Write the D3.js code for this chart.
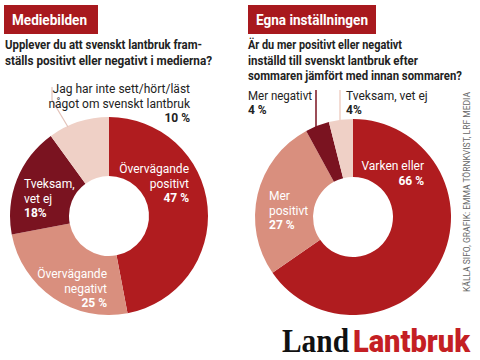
<!DOCTYPE html>
<html><head><meta charset="utf-8">
<script src="https://cdn.jsdelivr.net/npm/d3@7"></script>
<style>
html,body{margin:0;padding:0;background:#fff;}
svg{display:block;font-family:Roboto,"Open Sans",sans-serif;}
</style></head>
<body><svg id="c" width="480" height="360"></svg>
<script>
// Data
const leftCategories = ["Övervägande positivt","Övervägande negativt","Tveksam, vet ej","Jag har inte sett/hört/läst något om svenskt lantbruk"];
const leftValues = [47,25,18,10];
const rightCategories = ["Varken eller","Mer positivt","Mer negativt","Tveksam, vet ej"];
const rightValues = [66,27,4,4];
const sliceColors = ["#b01c1f","#d98f7e","#7a1320","#efd0c6"];

const svg = d3.select("#c");

function drawDonut(cx, cy, values, rOut, rIn){
  const pie = d3.pie().sort(null).value(d=>d);
  const arc = d3.arc().innerRadius(rIn).outerRadius(rOut);
  const g = svg.append("g").attr("transform",`translate(${cx},${cy})`);
  g.selectAll("path").data(pie(values)).join("path")
    .attr("d",arc).attr("fill",(d,i)=>sliceColors[i]);
  return g;
}

function header(x, y, w, text, tl){
  svg.append("rect").attr("x",x).attr("y",y).attr("width",w).attr("height",29).attr("fill","#a8191e");
  svg.append("text").attr("x",x+8).attr("y",y+20).attr("fill","#fff")
    .attr("font-size",15).attr("font-weight",700)
    .attr("textLength",tl).attr("lengthAdjust","spacingAndGlyphs").text(text);
}
function lines(x, y, arr, opts){
  const t = svg.append("text").attr("x",x).attr("y",y)
    .attr("font-size",opts.size||12).attr("fill",opts.fill||"#222")
    .attr("text-anchor",opts.anchor||"start");
  arr.forEach((l,i)=>{
    const s = t.append("tspan").attr("x",x).attr("dy", i===0?0:(opts.lh||15))
     .attr("font-weight", (opts.boldLast && i===arr.length-1) || opts.bold ? 700 : 400)
     .text(l);
    if (opts.lengths && opts.lengths[i]) s.attr("textLength",opts.lengths[i]).attr("lengthAdjust","spacingAndGlyphs");
  });
  return t;
}

// Left panel
header(4,5,94,"Mediebilden",75);
lines(5,49,["Upplever du att svenskt lantbruk fram-","ställs positivt eller negativt i medierna?"],
  {size:12,bold:true,lh:16,fill:"#222",lengths:[197,207]});

drawDonut(109,216,leftValues,99,40);

svg.append("polyline").attr("points","52,87 52,100 68,127")
  .attr("fill","none").attr("stroke","#e3c3ba").attr("stroke-width",1.2);

lines(190,93,["Jag har inte sett/hört/läst","något om svenskt lantbruk",leftValues[3]+" %"],{size:12,anchor:"end",lh:14.5,boldLast:true,fill:"#222"});
lines(189,173,["Övervägande","positivt",leftValues[0]+" %"],{size:12,anchor:"end",lh:14.5,boldLast:true,fill:"#fff"});
lines(24,188,["Tveksam,","vet ej",leftValues[2]+"%"],{size:12,anchor:"start",lh:14.5,boldLast:true,fill:"#fff"});
lines(107,278,["Övervägande","negativt",leftValues[1]+" %"],{size:12,anchor:"end",lh:14.5,boldLast:true,fill:"#fff"});

// Right panel
header(248,5,128,"Egna inställningen",112);
lines(248,49,["Är du mer positivt eller negativt","inställd till svenskt lantbruk efter","sommaren jämfört med innan sommaren?"],
  {size:12,bold:true,lh:15.5,fill:"#222",lengths:[154,170,214]});

drawDonut(353,217,rightValues,98,40);

svg.append("line").attr("x1",316).attr("y1",90).attr("x2",316).attr("y2",127)
  .attr("stroke","#7a1320").attr("stroke-width",1.5);
svg.append("line").attr("x1",340).attr("y1",90).attr("x2",340).attr("y2",120)
  .attr("stroke","#efd0c6").attr("stroke-width",1.5);

lines(248,100,["Mer negativt",rightValues[2]+" %"],{size:12,lh:14,boldLast:true,fill:"#222",lengths:[64,null]});
lines(346,100,["Tveksam, vet ej",rightValues[3]+"%"],{size:12,lh:14,boldLast:true,fill:"#222"});
lines(424,170,["Varken eller",rightValues[0]+" %"],{size:12,anchor:"end",lh:15,boldLast:true,fill:"#fff"});
lines(269,200,["Mer","positivt",rightValues[1]+" %"],{size:12,lh:14.5,boldLast:true,fill:"#fff"});

// Credit
svg.append("text").attr("transform","translate(470,292) rotate(-90)")
  .attr("font-size",8.5).attr("fill","#666")
  .attr("textLength",200).attr("lengthAdjust","spacingAndGlyphs")
  .text("KÄLLA SIFO, GRAFIK: EMMA TÖRNKVIST, LRF MEDIA");

// Logo
svg.append("text").attr("x",282).attr("y",352)
  .attr("font-family","'Liberation Serif','DejaVu Serif',serif").attr("font-weight",700)
  .attr("font-size",33).attr("fill","#111")
  .attr("textLength",67).attr("lengthAdjust","spacingAndGlyphs").text("Land");
svg.append("text").attr("x",353).attr("y",352)
  .attr("font-family","Roboto,sans-serif").attr("font-weight",900)
  .attr("font-size",31).attr("fill","#c41f24")
  .attr("textLength",117).attr("lengthAdjust","spacingAndGlyphs").text("Lantbruk");
</script></body></html>
